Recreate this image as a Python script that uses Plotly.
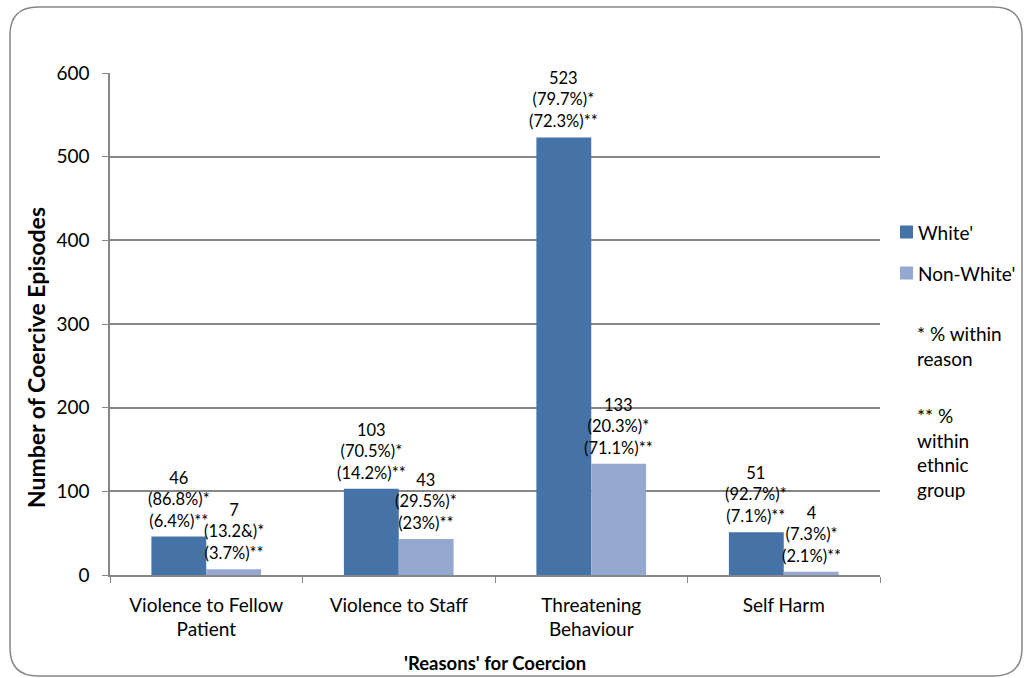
import plotly.graph_objects as go

reasons = ["Violence to Fellow<br>Patient", "Violence to Staff", "Threatening<br>Behaviour", "Self Harm"]
white = [46, 103, 523, 51]
non_white = [7, 43, 133, 4]
white_pct_reason = ["86.8%", "70.5%", "79.7%", "92.7%"]
white_pct_ethnic = ["6.4%", "14.2%", "72.3%", "7.1%"]
non_white_pct_reason = ["13.2&", "29.5%", "20.3%", "7.3%"]
non_white_pct_ethnic = ["3.7%", "23%", "71.1%", "2.1%"]
series_names = ["White'", "Non-White'"]
series_colors = ["#4572A7", "#94A8D0"]
notes = ["* % within<br>reason", "** %<br>within<br>ethnic<br>group"]

FONT = "Lato, Carlito, Calibri, sans-serif"
GREY = "#868686"

# Plot area in pixels (used for the frame, legend and notes)
W, H = 1026, 678
L, R, T, B = 110, 146, 73, 103
BARGAP = 0.43
BAR_PX = (W - L - R) / len(reasons) * (1 - BARGAP) / 2


def to_paper(px, py):
    return (px - L) / (W - L - R), (H - B - py) / (H - T - B)


def rounded_frame(x0, y0, x1, y1, r):
    a = to_paper(x0 + r, y0)
    pts = ["M %f,%f" % a,
           "L %f,%f" % to_paper(x1 - r, y0),
           "Q %f,%f %f,%f" % (*to_paper(x1, y0), *to_paper(x1, y0 + r)),
           "L %f,%f" % to_paper(x1, y1 - r),
           "Q %f,%f %f,%f" % (*to_paper(x1, y1), *to_paper(x1 - r, y1)),
           "L %f,%f" % to_paper(x0 + r, y1),
           "Q %f,%f %f,%f" % (*to_paper(x0, y1), *to_paper(x0, y1 - r)),
           "L %f,%f" % to_paper(x0, y0 + r),
           "Q %f,%f %f,%f" % (*to_paper(x0, y0), *a),
           "Z"]
    return " ".join(pts)


fig = go.Figure()
series = [
    (white, white_pct_reason, white_pct_ethnic),
    (non_white, non_white_pct_reason, non_white_pct_ethnic),
]
for k, ((vals, p_reason, p_ethnic), name, color) in enumerate(zip(series, series_names, series_colors)):
    fig.add_trace(go.Bar(
        x=reasons, y=vals, name=name,
        marker=dict(color=color, line=dict(width=0)),
        showlegend=False,
    ))
    # value labels above each bar
    shift = (k - 0.5) * BAR_PX
    for cat, v, pr, pe in zip(reasons, vals, p_reason, p_ethnic):
        fig.add_annotation(
            x=cat, y=v, xref="x", yref="y",
            text="%d<br>(%s)*<br>(%s)**" % (v, pr, pe),
            xshift=shift, yshift=5, xanchor="center", yanchor="bottom",
            showarrow=False, borderpad=0,
            font=dict(family=FONT, size=16.5, color="#000000"),
        )

fig.update_layout(
    width=W, height=H,
    margin=dict(l=L, r=R, t=T, b=B),
    paper_bgcolor="white", plot_bgcolor="white",
    barmode="group", bargap=BARGAP, bargroupgap=0,
    font=dict(family=FONT, size=19, color="#000000"),
    xaxis=dict(
        showline=True, linecolor=GREY, linewidth=1.5,
        ticks="outside", tickson="boundaries", ticklen=6, tickcolor=GREY,
        tickfont=dict(size=19), showgrid=False, ticklabelstandoff=12,
    ),
    yaxis=dict(
        range=[0, 600], dtick=100, showline=True, linecolor=GREY, linewidth=1.5,
        ticks="outside", ticklen=6, tickcolor=GREY, showgrid=True,
        gridcolor=GREY, gridwidth=1.5, zeroline=False, tickfont=dict(size=19),
        ticklabelstandoff=9,
    ),
)

# axis titles
fig.add_annotation(text="<b>Number of Coercive Episodes</b>", textangle=-90,
                   xref="paper", yref="paper", x=to_paper(36, 0)[0], y=to_paper(0, 358)[1],
                   xanchor="center", yanchor="middle",
                   showarrow=False, font=dict(size=23))
fig.add_annotation(text="<b>'Reasons' for Coercion</b>",
                   xref="paper", yref="paper", x=to_paper(495, 0)[0], y=to_paper(0, 663)[1],
                   xanchor="center", yanchor="middle",
                   showarrow=False, font=dict(size=18.5))

# legend drawn by hand so swatch and text sit close together
for i, (name, color) in enumerate(zip(series_names, series_colors)):
    cy = 232 + 41 * i
    x0, y0 = to_paper(900, cy - 6.5)
    x1, y1 = to_paper(913, cy + 6.5)
    fig.add_shape(type="rect", xref="paper", yref="paper", x0=x0, x1=x1, y0=y0, y1=y1,
                  fillcolor=color, line=dict(width=0))
    fig.add_annotation(text=name, xref="paper", yref="paper",
                       x=to_paper(916, 0)[0], y=to_paper(0, cy)[1],
                       xanchor="left", yanchor="middle", showarrow=False, font=dict(size=19))

for note, cy in zip(notes, [346, 452]):
    fig.add_annotation(text=note, align="left", xref="paper", yref="paper",
                       x=to_paper(915, 0)[0], y=to_paper(0, cy)[1],
                       xanchor="left", yanchor="middle", showarrow=False, font=dict(size=19))

fig.add_shape(type="path", xref="paper", yref="paper",
              path=rounded_frame(10, 7, 1022, 676, 28),
              line=dict(color=GREY, width=1.5), layer="below")

fig.write_html("out.html", config={"displayModeBar": False},
               post_script="document.body.style.margin='0';")
